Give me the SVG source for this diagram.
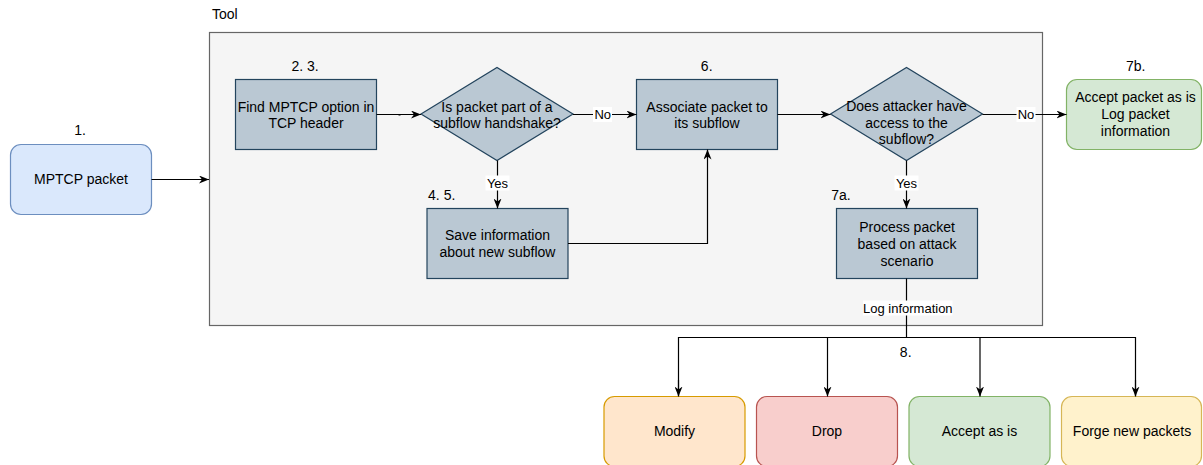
<svg xmlns="http://www.w3.org/2000/svg" width="1203" height="465" viewBox="0 0 1203 465">
<style>
text{font-family:"Liberation Sans",Arial,sans-serif;fill:#000}
.t{font-size:14px;text-anchor:middle}
.s{font-size:13px;text-anchor:middle}
.proc{fill:#bac8d3;stroke:#23445d;stroke-width:1.2}
.con{fill:none;stroke:#000;stroke-width:1.2}
.lbl{fill:#fff}
</style>
<defs>
<marker id="arr" viewBox="0 0 10 8" refX="10" refY="4" markerWidth="10" markerHeight="8" markerUnits="userSpaceOnUse" orient="auto">
<path d="M0,0 L10,4 L0,8 L3,4 Z" fill="#000"/>
</marker>
</defs>
<rect width="1203" height="465" fill="#fff"/>
<g id="tool">
<rect x="209.5" y="32.5" width="833" height="293" fill="#f5f5f5" stroke="#666" stroke-width="1.2"/>
<text x="212" y="19.3" style="font-size:14px">Tool</text>
</g>
<g id="mptcp-packet">
<rect x="10.5" y="144.5" width="141" height="70" rx="10.5" fill="#dae8fc" stroke="#6c8ebf" stroke-width="1.2"/>
<text class="t" x="81" y="184.3">MPTCP packet</text>
<text class="t" x="80" y="135">1.</text>
</g>
<g id="find">
<rect class="proc" x="235.5" y="79.5" width="141" height="70"/>
<text class="t" x="306" y="111.7">Find MPTCP option in</text>
<text class="t" x="306" y="128.3">TCP header</text>
<text class="t" x="305" y="70.7">2. 3.</text>
</g>
<g id="handshake">
<polygon class="proc" points="421,114 497,67.5 573,114 497,160.5"/>
<text class="t" x="497" y="111.7">Is packet part of a</text>
<text class="t" x="497" y="128.3">subflow handshake?</text>
</g>
<g id="save">
<rect class="proc" x="427" y="208.5" width="141" height="70"/>
<text class="t" x="497.5" y="240">Save information</text>
<text class="t" x="497.5" y="257">about new subflow</text>
<text class="t" x="441.7" y="200">4. 5.</text>
</g>
<g id="associate">
<rect class="proc" x="636.5" y="79.5" width="141" height="70"/>
<text class="t" x="707" y="111.7">Associate packet to</text>
<text class="t" x="707" y="128.3">its subflow</text>
<text class="t" x="706.7" y="70.7">6.</text>
</g>
<g id="access">
<polygon class="proc" points="830.5,114 906.5,67.5 982.5,114 906.5,160.5"/>
<text class="t" x="906.5" y="111">Does attacker have</text>
<text class="t" x="906.5" y="127.5">access to the</text>
<text class="t" x="906.5" y="144.2">subflow?</text>
</g>
<g id="accept-log">
<rect x="1066.5" y="79.5" width="135" height="70" rx="10.5" fill="#d5e8d4" stroke="#82b366" stroke-width="1.2"/>
<text class="t" x="1135.5" y="102.3">Accept packet as is</text>
<text class="t" x="1135.5" y="119.3">Log packet</text>
<text class="t" x="1135.5" y="136">information</text>
<text class="t" x="1135.7" y="70.7">7b.</text>
</g>
<g id="process">
<rect class="proc" x="836.5" y="208.5" width="141" height="70"/>
<text class="t" x="907" y="232">Process packet</text>
<text class="t" x="907" y="248.5">based on attack</text>
<text class="t" x="907" y="265.5">scenario</text>
<text class="t" x="841" y="200">7a.</text>
</g>
<g id="modify">
<rect x="604" y="396.5" width="141" height="70" rx="10.5" fill="#ffe6cc" stroke="#d79b00" stroke-width="1.2"/>
<text class="t" x="674.5" y="436.3">Modify</text>
</g>
<g id="drop">
<rect x="756.5" y="396.5" width="141" height="70" rx="10.5" fill="#f8cecc" stroke="#b85450" stroke-width="1.2"/>
<text class="t" x="827" y="436.3">Drop</text>
</g>
<g id="accept">
<rect x="909" y="396.5" width="141" height="70" rx="10.5" fill="#d5e8d4" stroke="#82b366" stroke-width="1.2"/>
<text class="t" x="979.5" y="436.3">Accept as is</text>
</g>
<g id="forge">
<rect x="1061.5" y="396.5" width="140" height="70" rx="10.5" fill="#fff2cc" stroke="#d6b656" stroke-width="1.2"/>
<text class="t" x="1132" y="436.3">Forge new packets</text>
</g>
<text class="t" x="905.7" y="357.3">8.</text>
<g id="connectors">
<path class="con" d="M151.5,179.5 H209" marker-end="url(#arr)"/>
<path class="con" d="M376.5,114.5 H421" marker-end="url(#arr)"/>
<rect x="398.5" y="114" width="2" height="1.5" fill="#000"/>
<path class="con" d="M573,114.5 H636.5" marker-end="url(#arr)"/>
<rect class="lbl" x="593" y="107" width="19" height="15"/>
<text class="s" x="602.7" y="118.8">No</text>
<path class="con" d="M497.5,160.5 V208.5" marker-end="url(#arr)"/>
<rect class="lbl" x="485.5" y="175.5" width="24" height="15"/>
<text class="s" x="497.5" y="187.5">Yes</text>
<path class="con" d="M568,243.5 H707.5 V149.5" marker-end="url(#arr)"/>
<path class="con" d="M777.5,114.5 H830.5" marker-end="url(#arr)"/>
<path class="con" d="M982.5,114.5 H1066.5" marker-end="url(#arr)"/>
<rect class="lbl" x="1016.5" y="107" width="19" height="15"/>
<text class="s" x="1026" y="118.8">No</text>
<path class="con" d="M906.5,160.5 V208.5" marker-end="url(#arr)"/>
<rect class="lbl" x="894.5" y="175.5" width="24" height="15"/>
<text class="s" x="906.5" y="187.5">Yes</text>
<path class="con" d="M906.5,278.5 V337.5"/>
<rect class="lbl" x="863" y="300.5" width="89.5" height="15"/>
<text class="s" x="907.8" y="312.6">Log information</text>
<path class="con" d="M678.5,396 V337.5 H1135.5 V396"/>
<path class="con" d="M678.5,380 V396.5" marker-end="url(#arr)"/>
<path class="con" d="M827.5,337.5 V396.5" marker-end="url(#arr)"/>
<path class="con" d="M980,337.5 V396.5" marker-end="url(#arr)"/>
<path class="con" d="M1135.5,380 V396.5" marker-end="url(#arr)"/>
</g>
</svg>
